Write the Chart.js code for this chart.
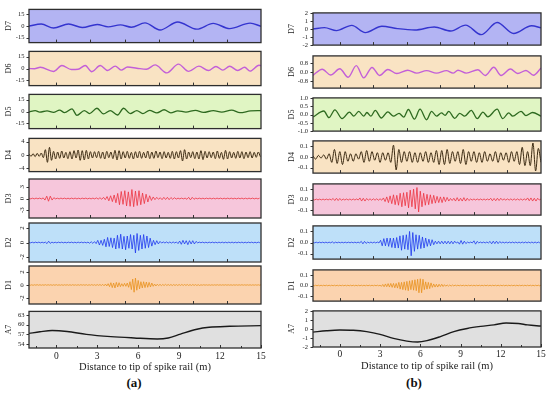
<!DOCTYPE html>
<html>
<head>
<meta charset="utf-8">
<title>Wavelet components along the spike rail</title>
<script src="https://cdn.jsdelivr.net/npm/chart.js@4.4.1/dist/chart.umd.min.js"></script>
<style>
  html, body { margin: 0; padding: 0; background: #fff; }
  #page { position: relative; width: 550px; height: 396px; overflow: hidden; }
  #page canvas { position: absolute; }
  .tag { position: absolute; width: 30px; text-align: center; font: bold 13px/15px "Liberation Serif", serif; color: #111; }
</style>
</head>
<body>
<div id="page">
  <div class="tag" style="left:119px; top:375px">(a)</div>
  <div class="tag" style="left:399px; top:375px">(b)</div>
</div>
<script>
const FONT = '"Liberation Serif", "Times New Roman", serif';
const rowNames = ['D7', 'D6', 'D5', 'D4', 'D3', 'D2', 'D1', 'A7'];
const gridStart = -2;   // dense components are sampled every "step" metres from here
const xLabels = ['0', '3', '6', '9', '12', '15'];
const xMinorA7 = [-1.5, 1.5, 4.5, 7.5, 10.5, 13.5];
const xTicksUpper = [0, 2.5, 5, 7.5, 10, 12.5];

// ---------- (a) ----------
// smooth components: [distance m, value] at the peaks and troughs
const aD7 = [[-2.0,0],[-1.1,2.5],[-0.2,-2.6],[0.9,2.6],[1.9,-2.0],[3.0,2.0],[3.8,-1.1],[4.7,1.5],[5.5,-1.6],
  [6.5,4.1],[7.6,-5.2],[8.9,5.2],[10.3,-4.1],[11.5,3.4],[12.7,-3.4],[14.2,3.7],[15.0,-0.4]];
const aD6 = [[-2.0,0],[-1.6,-0.3],[-1.17,1.5],[-0.2,-3.7],[0.41,3.7],[1.1,-1.2],[1.6,-0.9],[2.12,3.7],[2.6,-4.0],
  [3.22,3.7],[3.76,-2.5],[4.32,3.0],[4.75,-2.0],[5.22,1.8],[5.9,0.4],[6.6,-1.0],[7.24,4.5],[8.1,-5.5],[8.95,5.5],
  [9.7,-3.6],[10.45,3.0],[11.15,-2.5],[11.7,2.6],[12.2,-2.1],[12.7,2.8],[13.3,-2.5],[13.8,1.5],[14.2,-3.3],[14.85,4.0],[15.0,3.6]];
const aD5 = [[-2.0,-0.7],[-1.54,1.1],[-1.22,-0.7],[-0.68,0.7],[-0.2,-1.1],[0.24,1.8],[0.61,-1.5],[1.15,3.3],[1.51,-4.8],
  [2.05,1.1],[2.44,-2.6],[2.98,4.1],[3.46,-3.0],[3.95,1.1],[4.49,-4.4],[4.93,4.1],[5.41,-2.6],[5.9,1.1],[6.34,-2.6],
  [6.83,1.5],[7.37,-1.8],[7.9,2.2],[8.39,-1.8],[8.9,0.9],[9.5,-0.8],[10.2,1.5],[10.78,-1.1],[11.51,1.1],[12.12,-0.7],
  [12.85,1.8],[13.46,-1.5],[14.24,0.7],[15.0,1.1]];
const aA7 = [[-2.0,57.3],[-1.2,57.8],[-0.3,58.2],[0.8,57.9],[2.2,57.0],[4.0,56.3],[5.7,55.9],[7.4,55.6],[8.2,55.9],
  [9.1,57.1],[10.3,58.6],[11.2,59.2],[12.7,59.5],[15.0,59.7]];

// dense components: values at each step
const aD4Step = 0.15;
const aD4 = [
  0.3,-0.4,0.4,-0.5,0.5,-0.4,0.6,-0.8,1.6,-2.2,
  2.3,-1.6,1.1,-1.2,0.9,-1.0,1.2,-0.9,0.8,-1.1,
  1.0,-1.2,1.3,-0.9,1.5,-1.6,1.3,-1.5,1.4,-1.2,
  1.0,-0.9,1.0,-0.8,1.1,-1.0,0.9,-1.2,1.1,-0.8,
  0.9,-1.1,1.4,-1.5,1.3,-1.2,1.0,-0.9,1.1,-1.0,
  0.8,-1.2,1.0,-0.9,1.1,-1.0,0.8,-0.9,1.2,-1.1,
  0.9,-1.0,1.2,-0.8,0.9,-1.1,1.0,-0.9,0.8,-1.0,
  1.1,-1.2,1.0,-0.9,1.3,-1.8,1.6,-1.2,0.9,-0.8,
  1.0,-1.1,0.9,-1.2,1.3,-1.4,1.1,-0.9,1.0,-0.8,
  0.9,-1.1,1.2,-1.0,0.8,-1.3,1.4,-1.2,1.0,-0.9,
  0.8,-1.0,1.1,-0.9,1.0,-1.1,0.9,-0.8,1.0,-0.9,
  0.8,-0.7,0.9,-0.5];
const aD3Step = 0.13;
const aD3 = [
  0.1,-0.1,0.08,-0.1,0.1,-0.08,0.1,-0.1,0.15,-0.4,
  0.6,-0.7,0.6,-0.4,0.2,-0.1,0.08,-0.1,0.1,-0.08,
  0.1,-0.1,0.08,-0.1,0.1,-0.08,0.1,-0.1,0.08,-0.1,
  0.1,-0.08,0.1,-0.1,0.08,-0.1,0.1,-0.1,0.15,-0.15,
  0.2,-0.2,0.3,-0.3,0.5,-0.6,0.7,-0.8,0.9,-1.1,
  1.3,-1.6,1.8,-1.5,2.0,-1.9,1.7,-2.0,2.3,-2.1,
  1.9,-1.8,2.0,-1.6,1.4,-1.3,1.1,-0.9,0.7,-0.5,
  0.4,-0.3,0.3,-0.2,0.2,-0.3,0.3,-0.25,0.3,-0.3,
  0.25,-0.2,0.2,-0.15,0.1,-0.1,0.1,-0.1,0.1,-0.2,
  0.3,-0.35,0.3,-0.2,0.1,-0.08,0.1,-0.1,0.08,-0.1,
  0.1,-0.08,0.1,-0.1,0.08,-0.1,0.1,-0.08,0.1,-0.1,
  0.08,-0.1,0.1,-0.08,0.1,-0.1,0.08,-0.1,0.1,-0.08,
  0.1,-0.1,0.08,-0.1,0.1,-0.08,0.1,-0.1,0.08,-0.1,
  0.1];
const aD2Step = 0.12;
const aD2 = [
  0.05,-0.05,0.04,-0.05,0.05,-0.04,0.05,-0.05,0.04,-0.05,
  0.05,-0.15,0.18,-0.12,0.05,-0.05,0.04,-0.05,0.05,-0.04,
  0.05,-0.05,0.04,-0.05,0.05,-0.04,0.05,-0.05,0.04,-0.05,
  0.05,-0.04,0.05,-0.05,0.04,-0.05,0.05,-0.1,0.1,-0.12,
  0.12,-0.15,0.3,-0.35,0.3,-0.4,0.45,-0.6,0.7,-0.55,
  0.65,-0.7,0.6,-0.9,1.0,-0.8,1.15,-0.9,0.85,-1.0,
  0.9,-0.8,1.1,-0.9,1.0,-1.45,1.25,-1.1,1.0,-0.9,
  1.1,-0.8,0.9,-0.7,0.6,-0.5,0.3,-0.3,0.25,-0.2,
  0.15,-0.08,0.08,-0.07,0.08,-0.08,0.07,-0.08,0.08,-0.07,
  0.08,-0.15,0.2,-0.25,0.3,-0.2,0.25,-0.3,0.25,-0.2,
  0.25,-0.2,0.15,-0.05,0.05,-0.04,0.05,-0.05,0.04,-0.05,
  0.05,-0.04,0.05,-0.05,0.04,-0.05,0.05,-0.04,0.05,-0.05,
  0.04,-0.05,0.05,-0.04,0.05,-0.05,0.04,-0.05,0.05,-0.04,
  0.05,-0.05,0.04,-0.05,0.05,-0.04,0.05,-0.05,0.04,-0.05,
  0.05,-0.04];
const aD1Step = 0.1;
const aD1 = [
  0.04,-0.04,0.03,-0.05,0.04,-0.03,0.05,-0.04,0.04,-0.04,
  0.03,-0.04,0.05,-0.04,0.04,-0.03,0.04,-0.05,0.04,-0.04,
  0.05,-0.04,0.03,-0.04,0.04,-0.05,0.04,-0.03,0.04,-0.04,
  0.04,-0.05,0.05,-0.04,0.03,-0.04,0.04,-0.04,0.05,-0.03,
  0.04,-0.04,0.05,-0.05,0.04,-0.04,0.06,-0.05,0.05,-0.06,
  0.06,-0.05,0.07,-0.08,0.1,-0.12,0.15,-0.15,0.2,-0.25,
  0.35,-0.4,0.3,-0.45,0.4,-0.3,0.35,-0.25,0.2,-0.2,
  0.25,-0.2,0.3,-0.35,0.5,-0.7,0.9,-1.1,1.05,-0.8,
  0.7,-0.6,0.5,-0.45,0.5,-0.4,0.45,-0.35,0.4,-0.3,
  0.3,-0.2,0.15,-0.15,0.12,-0.1,0.1,-0.1,0.08,-0.08,
  0.1,-0.07,0.07,-0.06,0.07,-0.08,0.07,-0.07,0.06,-0.07,
  0.07,-0.06,0.08,-0.07,0.07,-0.06,0.07,-0.07,0.06,-0.07,
  0.07,-0.06,0.06,-0.07,0.05,-0.07,0.03,-0.03,0.04,-0.03,
  0.03,-0.03,0.03,-0.04,0.03,-0.03,0.03,-0.03,0.04,-0.03,
  0.03,-0.03,0.03,-0.03,0.04,-0.03,0.03,-0.03,0.03,-0.04,
  0.03,-0.03,0.03,-0.03,0.03,-0.03,0.04,-0.03,0.03,-0.03,
  0.03,-0.03,0.03,-0.04,0.03,-0.03,0.03,-0.03,0.03,-0.03,
  0.03];

const aTicks15 = ['15', '0', '-15'];
const aTicksD4 = ['4', '0', '-4'];
const aTicksD3 = ['3', '0', '-3'];
const aTicksD2 = ['2', '0', '-2'];
const aTicksD1 = ['2', '0', '-2'];
const aTicksA7 = ['63', '60', '57', '54'];

// ---------- (b) ----------
const bD7 = [[-2.0,0],[-1.14,0.17],[-0.25,-0.2],[0.89,0.45],[1.9,-0.45],[3.14,0.35],[4.3,0.05],[5.6,-0.12],
  [7.04,0.25],[8.27,-0.25],[9.38,0.48],[10.54,-0.7],[11.73,0.8],[12.96,-0.55],[14.3,0.4],[15.0,0.15]];
const bD6 = [[-2.0,-0.3],[-1.31,0.25],[-0.69,-0.27],[0.0,0.29],[0.62,-0.47],[1.23,0.57],[1.78,-0.53],[2.4,0.41],
  [2.96,-0.31],[3.58,0.23],[4.25,-0.14],[5.06,0.16],[5.73,-0.1],[6.47,0.12],[7.21,-0.1],[7.95,0.12],[8.44,-0.1],
  [8.81,0.16],[9.43,-0.1],[10.3,0.2],[10.84,-0.31],[11.48,0.43],[12.02,-0.31],[12.72,0.27],[13.26,-0.14],
  [13.88,0.14],[14.44,-0.29],[15.0,0.35]];
const bD5 = [[-1.98,-0.14],[-1.19,0.21],[-0.81,-0.19],[-0.37,0.28],[0.17,-0.25],[0.72,0.14],[1.04,-0.1],[1.41,0.19],
  [1.78,-0.1],[2.02,0.12],[2.32,-0.1],[2.64,0.25],[3.09,-0.21],[3.58,0.16],[4.0,-0.1],[4.42,0.07],[4.77,-0.16],
  [5.11,0.3],[5.56,-0.28],[5.98,0.32],[6.47,-0.32],[6.84,0.19],[7.21,-0.1],[7.58,0.1],[7.85,-0.05],[8.12,0.19],
  [8.57,-0.23],[8.94,0.07],[9.31,-0.1],[9.8,0.25],[10.25,-0.25],[10.67,0.14],[11.04,-0.14],[11.73,0.32],
  [12.15,-0.25],[12.59,0.1],[12.89,-0.1],[13.51,0.19],[13.88,-0.07],[14.37,0.12],[15.0,-0.1]];
const bA7 = [[-2.0,-0.35],[-1.0,-0.2],[0.0,-0.12],[1.0,-0.15],[2.0,-0.3],[3.0,-0.6],[4.0,-1.05],[5.0,-1.35],
  [5.8,-1.45],[6.5,-1.3],[7.5,-0.85],[8.5,-0.3],[9.5,0.05],[10.5,0.28],[11.5,0.45],[12.4,0.66],[13.3,0.6],
  [14.0,0.45],[15.0,0.32]];

const bD4Step = 0.2;
const bD4 = [
  0.01,-0.02,0.015,-0.01,0.02,-0.02,0.03,-0.05,0.07,-0.06,
  0.05,-0.07,0.05,-0.04,0.03,-0.04,0.03,-0.02,0.05,-0.05,
  0.06,-0.04,0.05,-0.03,0.04,-0.05,0.04,-0.03,0.04,-0.05,
  0.11,-0.12,0.07,-0.05,0.05,-0.04,0.05,-0.05,0.04,-0.05,
  0.04,-0.04,0.05,-0.05,0.04,-0.05,0.06,-0.07,0.06,-0.07,
  0.07,-0.06,0.05,-0.04,0.05,-0.06,0.07,-0.07,0.05,-0.04,
  0.05,-0.05,0.04,-0.05,0.05,-0.04,0.03,-0.04,0.05,-0.05,
  0.04,-0.03,0.04,-0.05,0.05,-0.04,0.05,-0.07,0.09,-0.08,
  0.05,-0.08,0.13,-0.13,0.08,-0.05];
const bD3Step = 0.125;
const bD3 = [
  0.004,-0.004,0.004,-0.004,0.004,-0.004,0.004,-0.004,0.004,-0.004,
  0.004,-0.004,0.01,-0.01,0.012,-0.01,0.01,-0.008,0.005,-0.005,
  0.005,-0.005,0.005,-0.005,0.005,-0.005,0.005,-0.005,0.015,-0.015,
  0.012,-0.015,0.01,-0.007,0.007,-0.007,0.007,-0.007,0.007,-0.007,
  0.007,-0.007,0.015,-0.02,0.025,-0.03,0.035,-0.04,0.045,-0.05,
  0.04,-0.055,0.06,-0.07,0.065,-0.06,0.07,-0.08,0.09,-0.07,
  0.1,-0.09,0.115,-0.12,0.08,-0.07,0.06,-0.055,0.05,-0.05,
  0.045,-0.04,0.04,-0.035,0.03,-0.03,0.025,-0.03,0.025,-0.02,
  0.02,-0.015,0.01,-0.01,0.012,-0.015,0.018,-0.015,0.012,-0.015,
  0.018,-0.015,0.012,-0.01,0.005,-0.005,0.005,-0.005,0.005,-0.005,
  0.005,-0.005,0.005,-0.005,0.005,-0.005,0.012,-0.012,0.01,-0.012,
  0.012,-0.01,0.012,-0.006,0.006,-0.006,0.006,-0.006,0.006,-0.006,
  0.006,-0.006,0.006,-0.006,0.006,-0.006,0.006,-0.006,0.015,-0.012,
  0.015,-0.015,0.012,-0.015,0.012,-0.005,0.005];
const bD2Step = 0.12;
const bD2 = [
  0.003,-0.003,0.003,-0.003,0.003,-0.003,0.003,-0.003,0.003,-0.003,
  0.003,-0.003,0.006,-0.006,0.003,-0.003,0.003,-0.003,0.003,-0.003,
  0.003,-0.003,0.003,-0.003,0.003,-0.003,0.003,-0.003,0.003,-0.003,
  0.01,-0.012,0.01,-0.008,0.004,-0.004,0.004,-0.004,0.004,-0.004,
  0.004,-0.004,0.02,-0.03,0.035,-0.03,0.04,-0.035,0.04,-0.045,
  0.04,-0.05,0.045,-0.05,0.06,-0.07,0.065,-0.06,0.07,-0.065,
  0.1,-0.12,0.09,-0.08,0.07,-0.06,0.065,-0.055,0.05,-0.05,
  0.04,-0.035,0.03,-0.03,0.025,-0.02,0.012,-0.012,0.012,-0.012,
  0.012,-0.012,0.012,-0.012,0.012,-0.012,0.012,-0.012,0.012,-0.005,
  0.005,-0.015,0.018,-0.015,0.012,-0.01,0.004,-0.004,0.004,-0.004,
  0.015,-0.015,0.01,-0.004,0.004,-0.004,0.004,-0.004,0.004,-0.004,
  0.01,-0.012,0.012,-0.01,0.012,-0.01,0.008,-0.004,0.004,-0.004,
  0.004,-0.004,0.004,-0.004,0.004,-0.004,0.004,-0.004,0.004,-0.004,
  0.004,-0.004,0.004,-0.004,0.004,-0.004,0.004,-0.004,0.004,-0.004,
  0.004,-0.004];
const bD1Step = 0.1;
const bD1 = [
  0.003,-0.003,0.003,-0.003,0.003,-0.003,0.003,-0.003,0.003,-0.003,
  0.003,-0.003,0.003,-0.003,0.003,-0.003,0.003,-0.003,0.003,-0.003,
  0.003,-0.003,0.003,-0.003,0.003,-0.003,0.003,-0.003,0.003,-0.003,
  0.003,-0.003,0.003,-0.003,0.003,-0.003,0.003,-0.003,0.003,-0.003,
  0.003,-0.003,0.003,-0.003,0.003,-0.003,0.003,-0.003,0.003,-0.003,
  0.003,-0.008,0.01,-0.012,0.015,-0.012,0.018,-0.015,0.02,-0.018,
  0.02,-0.022,0.02,-0.025,0.03,-0.035,0.03,-0.04,0.035,-0.045,
  0.04,-0.05,0.045,-0.04,0.05,-0.045,0.055,-0.05,0.06,-0.07,
  0.065,-0.07,0.06,-0.04,0.035,-0.035,0.03,-0.03,0.025,-0.018,
  0.015,-0.015,0.012,-0.015,0.012,-0.01,0.012,-0.01,0.008,-0.007,
  0.006,-0.006,0.005,-0.006,0.005,-0.004,0.004,-0.003,0.003,-0.003,
  0.003,-0.003,0.003,-0.003,0.003,-0.003,0.003,-0.003,0.003,-0.003,
  0.003,-0.003,0.003,-0.003,0.003,-0.003,0.003,-0.003,0.003,-0.003,
  0.003,-0.003,0.003,-0.003,0.003,-0.003,0.003,-0.003,0.003,-0.003,
  0.003,-0.003,0.003,-0.003,0.003,-0.003,0.003,-0.003,0.003,-0.003,
  0.003,-0.003,0.003,-0.003,0.003,-0.003,0.003,-0.003,0.003,-0.003,
  0.003,-0.003,0.003,-0.003,0.003,-0.003,0.003,-0.003,0.003,-0.003,
  0.003];

const bTicks21 = ['2', '1', '0', '-1', '-2'];
const bTicksD6 = ['0.8', '0.0', '-0.8'];
const bTicksD5 = ['1.0', '0.5', '0.0', '-0.5', '-1.0'];
const bTicksSmall = ['0.1', '0.0', '-0.1'];

// ---------- what goes where ----------
const dataA = {
  series: { D7: aD7, D6: aD6, D5: aD5, D4: aD4, D3: aD3, D2: aD2, D1: aD1, A7: aA7 },
  steps: { D4: aD4Step, D3: aD3Step, D2: aD2Step, D1: aD1Step },
  ticks: { D7: aTicks15, D6: aTicks15, D5: aTicks15, D4: aTicksD4, D3: aTicksD3, D2: aTicksD2, D1: aTicksD1, A7: aTicksA7 },
  ranges: { D7: [-21.5, 21.5], D6: [-21.5, 21.5], D5: [-21.5, 21.5], D4: [-5, 5], D3: [-5, 5], D2: [-2.7, 2.7], D1: [-2.9, 2.9], A7: [52.8, 64.1] },
  rotated: ['D3', 'D2', 'D1']
};
const dataB = {
  series: { D7: bD7, D6: bD6, D5: bD5, D4: bD4, D3: bD3, D2: bD2, D1: bD1, A7: bA7 },
  steps: { D4: bD4Step, D3: bD3Step, D2: bD2Step, D1: bD1Step },
  ticks: { D7: bTicks21, D6: bTicksD6, D5: bTicksD5, D4: bTicksSmall, D3: bTicksSmall, D2: bTicksSmall, D1: bTicksSmall, A7: bTicks21 },
  ranges: { D7: [-2, 2], D6: [-1.45, 1.45], D5: [-1, 1], D4: [-0.15, 0.15], D3: [-0.15, 0.15], D2: [-0.15, 0.15], D1: [-0.15, 0.15], A7: [-2, 2] },
  rotated: []
};

const layoutA = { left: 0, axisW: 29, plotW: 232, titlePad: 4.4, tickPad: 4.5, xLabPad: 3,
  rows: [[7,45],[49,88],[92,131],[136,174],[179,218],[223,262],[266,304],[309,348]] };
const layoutB = { left: 272, axisW: 41, plotW: 228, titlePad: 15.5, tickPad: 5, xLabPad: 2,
  rows: [[10,48],[53,91],[95,134],[138,176],[181,218],[223,262],[267,304],[308,347]] };

const panelBg = { D7: '#b3b4f3', D6: '#f9e3c3', D5: '#e0f5c3', D4: '#f9e3c3', D3: '#f6c6db', D2: '#bee0f9', D1: '#fbd3af', A7: '#e0e0e0' };
const lineColor = { D7: '#3434cf', D6: '#c35fd8', D5: '#2e6a20', D4: '#3b2a12', D3: '#ec3340', D2: '#2038ee', D1: '#e8921e', A7: '#1a1a1a' };
const lineWidth = { D7: 1.4, D6: 1.4, D5: 1.3, D4: 1, D3: 0.8, D2: 0.8, D1: 0.8, A7: 1.4 };

function panelPlugin(bg, xTicks, xMinor, yTicks, rotLabels) {
  return {
    id: 'panel',
    beforeDraw(chart) {
      const { ctx, chartArea: a } = chart;
      ctx.save();
      ctx.fillStyle = bg;
      ctx.fillRect(a.left, a.top, a.right - a.left, a.bottom - a.top);
      ctx.restore();
    },
    afterDraw(chart) {
      const { ctx, chartArea: a, scales } = chart;
      ctx.save();
      ctx.strokeStyle = '#333';
      ctx.lineWidth = 1;
      ctx.beginPath();
      xTicks.forEach(v => {
        const px = Math.round(scales.x.getPixelForValue(v)) + 0.5;
        ctx.moveTo(px, a.bottom); ctx.lineTo(px, a.bottom - 3);
      });
      xMinor.forEach(v => {
        const px = Math.round(scales.x.getPixelForValue(v)) + 0.5;
        ctx.moveTo(px, a.bottom); ctx.lineTo(px, a.bottom - 2);
      });
      yTicks.forEach(v => {
        const py = Math.round(scales.y.getPixelForValue(v)) + 0.5;
        ctx.moveTo(a.left, py); ctx.lineTo(a.left - 2.5, py);
      });
      ctx.stroke();
      ctx.lineWidth = 1.3;
      ctx.strokeStyle = '#2e2e2e';
      ctx.strokeRect(a.left, a.top, a.right - a.left, a.bottom - a.top);

      if (rotLabels) {
        ctx.fillStyle = '#222';
        ctx.font = '7px ' + FONT;
        ctx.textAlign = 'center';
        ctx.textBaseline = 'alphabetic';
        rotLabels.forEach((t, i) => {
          ctx.save();
          ctx.translate(a.left - 5.5, scales.y.getPixelForValue(yTicks[i]));
          ctx.rotate(-Math.PI / 2);
          ctx.fillText(t, 0, 0);
          ctx.restore();
        });
      }
      ctx.restore();
    }
  };
}

function makePanel(lay, dat, name, r) {
  const [top, bottom] = lay.rows[r];
  const isLast = name === 'A7';
  const axisH = 26;
  const w = lay.axisW + lay.plotW + 9;
  const h = bottom - top + 6 + (isLast ? axisH : 6);

  const canvas = document.createElement('canvas');
  canvas.width = w;
  canvas.height = h;
  canvas.style.left = lay.left + 'px';
  canvas.style.top = (top - 6) + 'px';
  canvas.style.width = w + 'px';
  canvas.style.height = h + 'px';
  document.getElementById('page').appendChild(canvas);

  const step = dat.steps[name];
  const raw = dat.series[name];
  const points = step
    ? raw.map((v, i) => ({ x: gridStart + i * step, y: v }))
    : raw.map(p => ({ x: p[0], y: p[1] }));
  const tickLabels = dat.ticks[name];
  const tickValues = tickLabels.map(Number);
  const rotated = dat.rotated.includes(name);
  const [yMin, yMax] = dat.ranges[name];
  const sharp = step && name !== 'D4';

  const xScale = isLast ? {
    type: 'linear', min: -2, max: 15, position: 'bottom',
    afterBuildTicks: s => { s.ticks = xLabels.map(t => ({ value: Number(t) })); },
    afterFit: s => { s.height = axisH; },
    grid: { display: false, drawTicks: false, tickLength: 0 },
    border: { display: false },
    ticks: { autoSkip: false, maxRotation: 0, minRotation: 0, padding: lay.xLabPad, color: '#222',
             font: { family: FONT, size: 9.5 }, callback: (v, i) => xLabels[i] },
    title: { display: true, text: 'Distance to tip of spike rail (m)', color: '#222',
             font: { family: FONT, size: 10.5 }, padding: { top: 0, bottom: 0.7 } }
  } : { type: 'linear', min: -2, max: 15, display: false };

  new Chart(canvas, {
    type: 'line',
    data: {
      datasets: [{
        data: points,
        borderColor: lineColor[name],
        borderWidth: lineWidth[name],
        pointRadius: 0,
        fill: false,
        tension: 0,
        cubicInterpolationMode: sharp ? 'default' : 'monotone',
        clip: 0
      }]
    },
    options: {
      responsive: false,
      animation: false,
      devicePixelRatio: 1,
      events: [],
      layout: { padding: { left: 0, right: 9, top: 6, bottom: isLast ? 0 : 6 } },
      plugins: { legend: { display: false }, tooltip: { enabled: false } },
      scales: {
        x: xScale,
        y: {
          type: 'linear', min: yMin, max: yMax, position: 'left',
          afterBuildTicks: s => { s.ticks = tickValues.map(v => ({ value: v })); },
          afterFit: s => { s.width = lay.axisW; },
          grid: { display: false, drawTicks: false, tickLength: 0 },
          border: { display: false },
          ticks: { display: !rotated, autoSkip: false, padding: lay.tickPad, color: '#222',
                   font: { family: FONT, size: 6.5 }, callback: (v, i) => tickLabels[i] },
          title: { display: true, text: name, color: '#222', font: { family: FONT, size: 8 },
                   padding: { top: lay.titlePad, bottom: 0 } }
        }
      }
    },
    plugins: [panelPlugin(panelBg[name], isLast ? xLabels.map(Number) : xTicksUpper,
                          isLast ? xMinorA7 : [], tickValues, rotated ? tickLabels : null)]
  });
}

rowNames.forEach((name, r) => {
  makePanel(layoutA, dataA, name, r);
  makePanel(layoutB, dataB, name, r);
});
</script>
</body>
</html>
